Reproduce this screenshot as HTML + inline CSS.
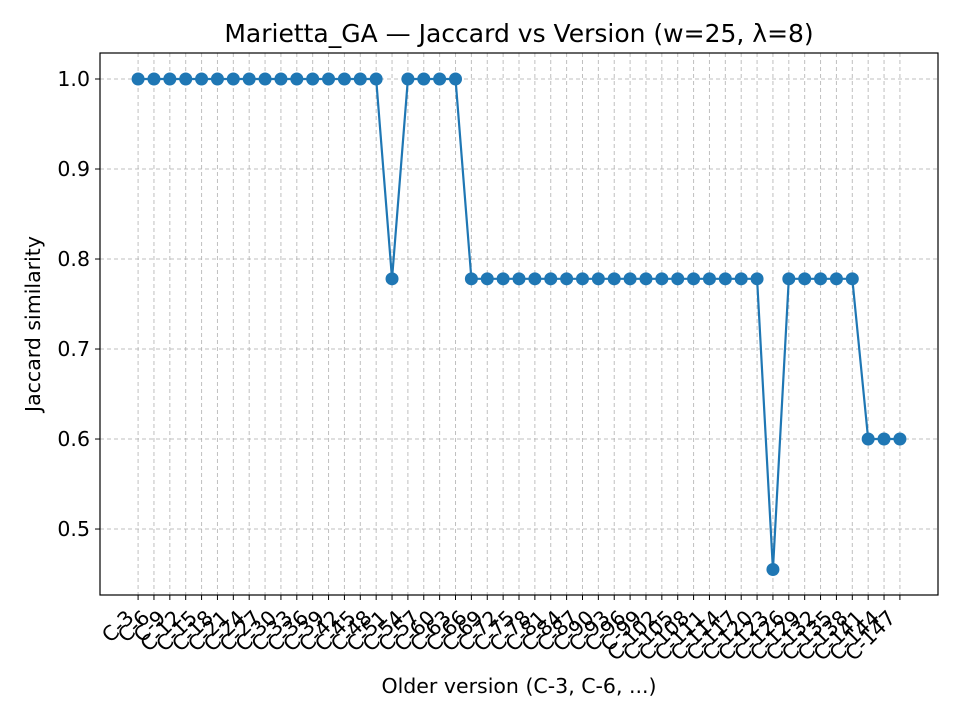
<!DOCTYPE html>
<html><head><meta charset="utf-8"><style>
body{margin:0;background:#fff;}
svg{font-family:"DejaVu Sans","Liberation Sans",sans-serif;}
</style></head><body>
<svg id="chart" width="960" height="720" xmlns="http://www.w3.org/2000/svg">
<rect width="960" height="720" fill="#fff"/>
<text x="519" y="42" font-size="25" text-anchor="middle">Marietta_GA — Jaccard vs Version (w=25, λ=8)</text>
<g id="grid"></g><g id="yticks"></g><g id="xticks"></g>
<path id="line" fill="none" stroke="#1f77b4" stroke-width="2.2"/>
<g id="points"></g>
<rect x="100" y="53" width="838" height="542" fill="none" stroke="#000" stroke-width="1.2"/>
<text x="519" y="693" font-size="20.5" text-anchor="middle">Older version (C-3, C-6, ...)</text>
<text transform="translate(40,324) rotate(-90)" font-size="20.5" text-anchor="middle">Jaccard similarity</text>
</svg>
<script>
const categories = [];
for (let v = 3; v <= 147; v += 3) categories.push('C-' + v);
const values = [1,1,1,1,1,1,1,1,1,1,1,1,1,1,1,1,0.778,1,1,1,1,
0.778,0.778,0.778,0.778,0.778,0.778,0.778,0.778,0.778,0.778,0.778,0.778,0.778,0.778,0.778,0.778,0.778,0.778,0.778,
0.455,0.778,0.778,0.778,0.778,0.778,0.6,0.6,0.6];
const yTickValues = [0.5,0.6,0.7,0.8,0.9,1.0];
const yTickLabels = ['0.5','0.6','0.7','0.8','0.9','1.0'];
const L=100,R=938,T=53,B=595, yMin=0.4267, yMax=1.0289;
const n=categories.length;
const xs=i=>L+(i+2.4)/(n-1+4.8)*(R-L);
const ys=v=>B-(v-yMin)/(yMax-yMin)*(B-T);
const NS='http://www.w3.org/2000/svg';
function mk(tag,attrs,parent){const e=document.createElementNS(NS,tag);for(const k in attrs)e.setAttribute(k,attrs[k]);document.getElementById(parent).appendChild(e);return e;}
categories.forEach((c,i)=>{
  const x=xs(i);
  const g=mk('line',{x1:x,x2:x,y1:T,y2:B,stroke:'#b0b0b0','stroke-width':1,'stroke-dasharray':'4,3',opacity:0.8},'grid');
  
  
  const t=mk('line',{x1:x,x2:x,y1:B,y2:B+5,stroke:'#000'},'xticks');
  
  
  const ax=x-3, ay=B+24;
  const tx=mk('text',{x:ax,y:ay,'font-size':20.5,'text-anchor':'end',transform:`rotate(-45 ${ax} ${ay})`},'xticks');
  tx.textContent=c;
  
  
});
yTickValues.forEach((v,i)=>{
  const y=ys(v);
  const g=mk('line',{x1:L,x2:R,y1:y,y2:y,stroke:'#b0b0b0','stroke-width':1,'stroke-dasharray':'4,3',opacity:0.8},'grid');
  
  
  const t=mk('line',{x1:L-5,x2:L,y1:y,y2:y,stroke:'#000'},'yticks');
  
  
  const tx=mk('text',{x:L-10,y:y+7,'font-size':20.5,'text-anchor':'end'},'yticks');
  tx.textContent=yTickLabels[i];
  
  
});
document.getElementById('line').setAttribute('d',values.map((v,i)=>(i?'L':'M')+xs(i)+','+ys(v)).join(''));
values.forEach((v,i)=>{
  const p=mk('circle',{cx:xs(i),cy:ys(v),r:6.5,fill:'#1f77b4'},'points');
  
  
});
</script>
</body></html>
